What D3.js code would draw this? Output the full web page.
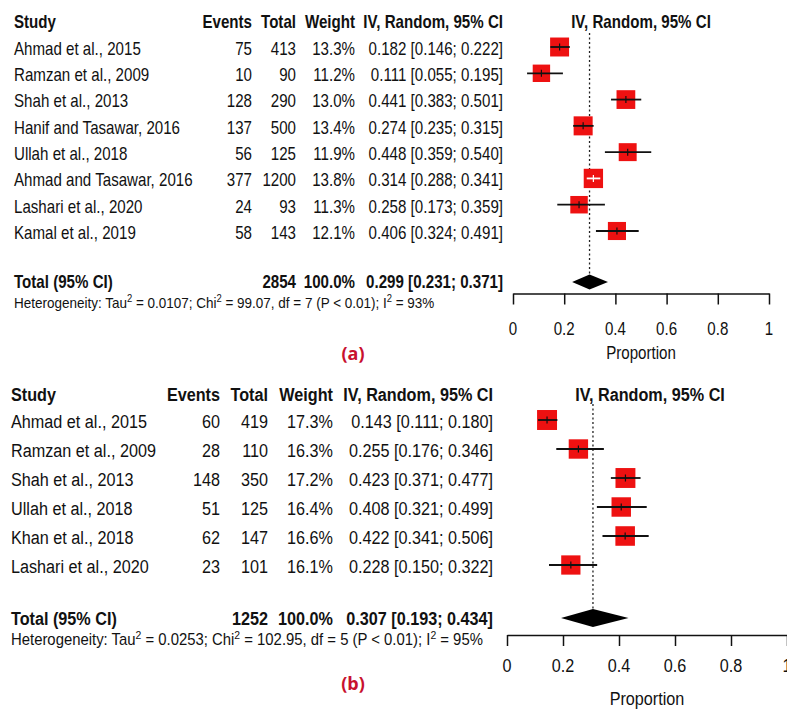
<!DOCTYPE html>
<html>
<head>
<meta charset="utf-8">
<script src="https://cdn.jsdelivr.net/npm/d3@7"></script>
<style>
  body { margin: 0; background: #fff; }
  text { font-family: "Liberation Sans", Arial, sans-serif; fill: #111; }
</style>
</head>
<body>
<svg id="chart"></svg>
<script>
// ---- panel (a) data
const studiesA = ["Ahmad et al., 2015", "Ramzan et al., 2009", "Shah et al., 2013", "Hanif and Tasawar, 2016",
  "Ullah et al., 2018", "Ahmad and Tasawar, 2016", "Lashari et al., 2020", "Kamal et al., 2019"];
const eventsA = [75, 10, 128, 137, 56, 377, 24, 58];
const totalsA = [413, 90, 290, 500, 125, 1200, 93, 143];
const weightsA = [13.3, 11.2, 13.0, 13.4, 11.9, 13.8, 11.3, 12.1];
const estA = [0.182, 0.111, 0.441, 0.274, 0.448, 0.314, 0.258, 0.406];
const lowA = [0.146, 0.055, 0.383, 0.235, 0.359, 0.288, 0.173, 0.324];
const highA = [0.222, 0.195, 0.501, 0.315, 0.540, 0.341, 0.359, 0.491];
const pooledA = [0.299, 0.231, 0.371];
const sumTotalA = 2854;
const hetA = ["0.0107", "99.07", "7", "93%"];

// ---- panel (b) data
const studiesB = ["Ahmad et al., 2015", "Ramzan et al., 2009", "Shah et al., 2013", "Ullah et al., 2018",
  "Khan et al., 2018", "Lashari et al., 2020"];
const eventsB = [60, 28, 148, 51, 62, 23];
const totalsB = [419, 110, 350, 125, 147, 101];
const weightsB = [17.3, 16.3, 17.2, 16.4, 16.6, 16.1];
const estB = [0.143, 0.255, 0.423, 0.408, 0.422, 0.228];
const lowB = [0.111, 0.176, 0.371, 0.321, 0.341, 0.150];
const highB = [0.180, 0.346, 0.477, 0.499, 0.506, 0.322];
const pooledB = [0.307, 0.193, 0.434];
const sumTotalB = 1252;
const hetB = ["0.0253", "102.95", "5", "95%"];

const tickValues = [0, 0.2, 0.4, 0.6, 0.8, 1];

const W = 787, H = 709;
const svg = d3.select("#chart").attr("width", W).attr("height", H);
svg.append("rect").attr("width", W).attr("height", H).attr("fill", "#fff");

const f3 = d3.format(".3f"), f1 = d3.format(".1f");

// text helper: horizontally squeezed like the source image
function txt(g, x, y, s, o) {
  o = o || {};
  return g.append("text")
    .attr("transform", "translate(" + x + "," + y + ") scale(" + (o.sx || 1) + ",1)")
    .attr("dy", "0.35em")
    .attr("text-anchor", o.anchor || "start")
    .style("font-size", (o.fs || 16) + "px")
    .style("font-weight", o.bold ? "bold" : "normal")
    .text(s);
}

function panel(d, L) {
  const g = svg.append("g");
  const n = d.studies.length;
  const x = d3.scaleLinear().domain([0, 1]).range(L.xRange);
  const y = d3.scaleLinear().domain([0, n - 1]).range(L.rows);
  const t = {fs: L.fs, sx: L.sx};
  const tb = {fs: L.fs, sx: L.sx, bold: true};
  const c = L.cols;
  const R = o => Object.assign({anchor: "end"}, o);

  // header
  txt(g, c.study, L.header, "Study", tb);
  txt(g, c.events, L.header, "Events", R(tb));
  txt(g, c.total, L.header, "Total", R(tb));
  txt(g, c.weight, L.header, "Weight", R(tb));
  txt(g, c.ci, L.header, "IV, Random, 95% CI", R(tb));
  txt(g, L.forestHead, L.header, "IV, Random, 95% CI", Object.assign({anchor: "middle"}, tb));

  // rows
  d.studies.forEach((s, i) => {
    const yy = y(i) + L.textDy;
    txt(g, c.study, yy, s, t);
    txt(g, c.events, yy, d.events[i], R(t));
    txt(g, c.total, yy, d.totals[i], R(t));
    txt(g, c.weight, yy, f1(d.weights[i]) + "%", R(t));
    txt(g, c.ci, yy, f3(d.est[i]) + " [" + f3(d.low[i]) + "; " + f3(d.high[i]) + "]", R(t));
  });

  // total row
  txt(g, c.study, L.totalY, "Total (95% CI)", tb);
  txt(g, c.total, L.totalY, d.sumTotal, R(tb));
  txt(g, c.weight, L.totalY, "100.0%", R(tb));
  txt(g, c.ci, L.totalY, f3(d.pooled[0]) + " [" + f3(d.pooled[1]) + "; " + f3(d.pooled[2]) + "]", R(tb));

  // heterogeneity line with superscripts
  const ht = g.append("text")
    .attr("transform", "translate(" + c.study + "," + L.hetY + ") scale(" + L.hetSx + ",1)")
    .attr("dy", "0.35em")
    .style("font-size", L.hetFs + "px");
  const up = L.hetFs * 0.38;
  const sup = s => ht.append("tspan").attr("dy", -up).style("font-size", (L.hetFs * 0.7) + "px").text(s);
  const norm = (s, back) => ht.append("tspan").attr("dy", back ? up : 0).text(s);
  norm("Heterogeneity: Tau");
  sup("2");
  norm(" = " + d.het[0] + "; Chi", true);
  sup("2");
  norm(" = " + d.het[1] + ", df = " + d.het[2] + " (P < 0.01); I", true);
  sup("2");
  norm(" = " + d.het[3], true);

  // reference line at pooled estimate
  g.append("line")
    .attr("x1", x(d.pooled[0])).attr("x2", x(d.pooled[0]))
    .attr("y1", L.dashTop).attr("y2", L.totalY - L.diamondH / 2)
    .attr("stroke", "#222").attr("stroke-width", 1.3).attr("stroke-dasharray", "2,2.5");

  // squares and CI lines
  d.studies.forEach((s, i) => {
    const yy = y(i);
    const side = L.sq * Math.sqrt(d.weights[i]);
    const cx = x(d.est[i]);
    g.append("rect")
      .attr("x", cx - side / 2).attr("y", yy - side / 2)
      .attr("width", side).attr("height", side)
      .attr("fill", "#ee1111");
    const inside = x(d.low[i]) > cx - side / 2 && x(d.high[i]) < cx + side / 2;
    const col = inside ? "#fff" : "#111";
    g.append("line")
      .attr("x1", x(d.low[i])).attr("x2", x(d.high[i]))
      .attr("y1", yy).attr("y2", yy)
      .attr("stroke", col).attr("stroke-width", 1.8);
    g.append("line")
      .attr("x1", cx).attr("x2", cx)
      .attr("y1", yy - 3.5).attr("y2", yy + 3.5)
      .attr("stroke", col).attr("stroke-width", 1.2);
  });

  // pooled diamond
  const dh = L.diamondH / 2;
  g.append("path")
    .attr("d", "M" + x(d.pooled[1]) + "," + L.totalY +
      "L" + x(d.pooled[0]) + "," + (L.totalY - dh) +
      "L" + x(d.pooled[2]) + "," + L.totalY +
      "L" + x(d.pooled[0]) + "," + (L.totalY + dh) + "Z")
    .attr("fill", "#000");

  // axis
  const ax = g.append("g")
    .attr("transform", "translate(0," + L.axisY + ")")
    .call(d3.axisBottom(x).tickValues(tickValues).tickSize(L.tickLen).tickSizeOuter(0));
  ax.select(".domain").attr("stroke", "#111").attr("stroke-width", 1.5);
  ax.selectAll(".tick line").attr("stroke", "#111").attr("stroke-width", 1.5);
  ax.selectAll(".tick text").remove();
  tickValues.forEach(v => txt(g, x(v), L.tickLabelY, (v === 0 || v === 1) ? String(v) : f1(v),
    {fs: L.fs, sx: L.sx, anchor: "middle"}));
  txt(g, (L.xRange[0] + L.xRange[1]) / 2, L.propY, "Proportion", {fs: L.fs, sx: L.sx, anchor: "middle"});

  // panel label
  g.append("text")
    .attr("x", L.label[0]).attr("y", L.label[1]).attr("dy", "0.35em")
    .attr("text-anchor", "middle")
    .style("font-family", "'Open Sans', Lato, sans-serif")
    .style("font-weight", "bold").style("font-size", "18px")
    .style("fill", "#c8102e")
    .text(L.labelText);
}

panel({studies: studiesA, events: eventsA, totals: totalsA, weights: weightsA, est: estA, low: lowA, high: highA,
    pooled: pooledA, sumTotal: sumTotalA, het: hetA},
  {cols: {study: 14, events: 252, total: 296, weight: 355, ci: 503}, xRange: [513, 769], rows: [47, 231],
    textDy: 1.5, header: 22, forestHead: 641, totalY: 282, hetY: 308, axisY: 293.5, tickLen: 11,
    tickLabelY: 329, propY: 353, fs: 18, sx: 0.84, hetFs: 15, hetSx: 0.9, sq: 5.2, diamondH: 15, dashTop: 33,
    label: [353, 354], labelText: "(a)"});

panel({studies: studiesB, events: eventsB, totals: totalsB, weights: weightsB, est: estB, low: lowB, high: highB,
    pooled: pooledB, sumTotal: sumTotalB, het: hetB},
  {cols: {study: 11, events: 220, total: 268, weight: 333, ci: 493}, xRange: [507, 787], rows: [420, 565],
    textDy: 1, header: 394, forestHead: 650, totalY: 618, hetY: 645, axisY: 635, tickLen: 11,
    tickLabelY: 665, propY: 698, fs: 19, sx: 0.853, hetFs: 16, hetSx: 0.93, sq: 4.8, diamondH: 18, dashTop: 404,
    label: [353, 684], labelText: "(b)"});
</script>
</body>
</html>
